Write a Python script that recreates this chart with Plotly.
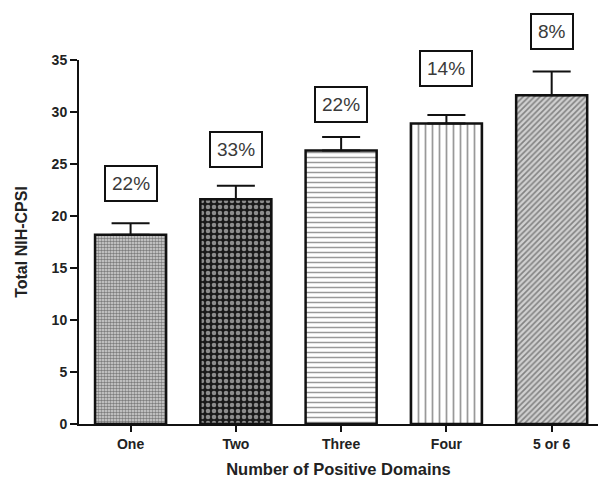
import plotly.graph_objects as go

# Mean total NIH-CPSI score by number of positive UPOINT domains
categories = ["One", "Two", "Three", "Four", "5 or 6"]
mean_score = [18.2, 21.6, 26.3, 28.9, 31.6]
sem_upper = [1.1, 1.3, 1.3, 0.8, 2.3]
pct_labels = ["22%", "33%", "22%", "14%", "8%"]
label_y = [23.1, 26.4, 30.7, 34.2, 37.7]

Y_MAX = 35

# Monochrome fill pattern per group
patterns = [
    dict(shape=".", size=3, solidity=0.55, fgcolor="#222222", bgcolor="#d8d8d8"),
    dict(shape=".", size=6, solidity=0.45, fgcolor="#ffffff", bgcolor="#1a1a1a"),
    dict(shape="-", size=5, solidity=0.3, fgcolor="#333333", bgcolor="#ffffff"),
    dict(shape="|", size=7, solidity=0.25, fgcolor="#333333", bgcolor="#ffffff"),
    dict(shape="/", size=4, solidity=0.4, fgcolor="#333333", bgcolor="#d0d0d0"),
]

fig = go.Figure()
for i, cat in enumerate(categories):
    fig.add_trace(go.Bar(
        x=[cat], y=[mean_score[i]],
        width=0.675,
        marker=dict(color="#ffffff", pattern=patterns[i],
                    line=dict(color="#111111", width=2.5)),
        error_y=dict(type="data", symmetric=False, array=[sem_upper[i]],
                     arrayminus=[0], color="#111111", thickness=2, width=19),
        showlegend=False,
    ))

# Percentage boxes; placed in y-domain units so the top one can sit above the axis range
for cat, txt, yv in zip(categories, pct_labels, label_y):
    fig.add_annotation(
        x=cat, y=yv / Y_MAX, text=txt, showarrow=False,
        xanchor="center", yanchor="middle",
        font=dict(family="Liberation Sans, Arial", size=19, color="#3a3a3a"),
        bordercolor="#111111", borderwidth=2, borderpad=6, bgcolor="#ffffff",
        xref="x", yref="y domain",
    )

tick_font = dict(family="Liberation Sans, Arial", size=14, color="#222222", weight="bold")

fig.update_layout(
    width=599, height=478,
    margin=dict(l=79, r=1, t=60, b=52),
    paper_bgcolor="#ffffff", plot_bgcolor="#ffffff",
    xaxis=dict(
        type="category", range=[-0.49, 4.44],
        showline=True, linecolor="#111111", linewidth=2,
        ticks="outside", ticklen=6, tickwidth=2, tickcolor="#111111",
        tickfont=tick_font, showgrid=False, zeroline=False,
        title=dict(text="Number of Positive Domains", standoff=14,
                   font=dict(family="Liberation Sans, Arial", size=16.5,
                             color="#222222", weight="bold")),
    ),
    yaxis=dict(
        range=[0, Y_MAX], tickvals=[0, 5, 10, 15, 20, 25, 30, 35],
        showline=True, linecolor="#111111", linewidth=2,
        ticks="outside", ticklen=7, tickwidth=2, tickcolor="#111111",
        tickfont=tick_font, showgrid=False, zeroline=False,
        title=dict(text="Total NIH-CPSI", standoff=20,
                   font=dict(family="Liberation Sans, Arial", size=16,
                             color="#222222", weight="bold")),
    ),
)

fig.write_html("out.html")
